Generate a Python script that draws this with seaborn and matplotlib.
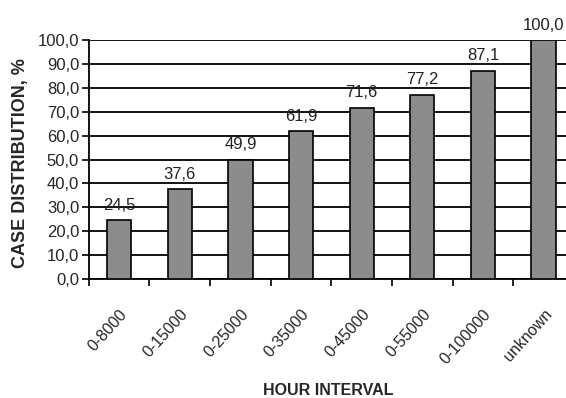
import matplotlib
matplotlib.use("Agg")
import matplotlib.pyplot as plt
import matplotlib.transforms as mtransforms
import seaborn as sns
import pandas as pd
from matplotlib.ticker import FuncFormatter, MultipleLocator

categories = ["0-8000", "0-15000", "0-25000", "0-35000", "0-45000", "0-55000", "0-100000", "unknown"]
distribution = [24.5, 37.6, 49.9, 61.9, 71.6, 77.2, 87.1, 100.0]

df = pd.DataFrame({"interval": categories, "share": distribution})

sns.set_theme(style="white")
narrow = ["Liberation Sans Narrow", "Liberation Sans", "DejaVu Sans"]
plt.rcParams["font.family"] = narrow

fig = plt.figure(figsize=(5.66, 3.98), dpi=100)
ax = fig.add_axes([0.157, 0.299, 0.857, 0.600])

sns.barplot(data=df, x="interval", y="share", ax=ax, color="#8c8c8c",
            edgecolor="black", linewidth=1.2, width=0.4, saturation=1, zorder=3)

ax.set_ylim(0, 100)
ax.set_xlim(-0.5, len(categories) - 0.5)
ax.yaxis.set_major_locator(MultipleLocator(10))
ax.yaxis.set_major_formatter(FuncFormatter(lambda v, p: f"{v:.1f}".replace(".", ",")))
ax.grid(axis="y", color="black", linewidth=1.3, zorder=0)
ax.set_axisbelow(True)

for s in ["top", "right"]:
    ax.spines[s].set_visible(False)
for s in ["left", "bottom"]:
    ax.spines[s].set_color("black")
    ax.spines[s].set_linewidth(1.3)

# x ticks sit on category boundaries; labels hang under category centres
ax.set_xticks([i - 0.5 for i in range(len(categories))], minor=False)
ax.set_xticklabels([])
ax.set_xticks(range(len(categories)), minor=True)
ax.set_xticklabels(categories, minor=True, rotation=48, ha="right",
                   rotation_mode="anchor", fontsize=11.5)
shift = mtransforms.ScaledTranslation(-7 / 100, 0, fig.dpi_scale_trans)
for lbl in ax.get_xticklabels(minor=True):
    lbl.set_transform(lbl.get_transform() + shift)
ax.tick_params(axis="x", which="major", length=5, width=1.2, color="black", direction="out", bottom=True)
ax.tick_params(axis="x", which="minor", length=0, pad=20)
ax.tick_params(axis="y", length=5, width=1.2, color="black", direction="out", left=True, labelsize=12, pad=2)

for i, v in enumerate(distribution):
    ax.text(i, v + 3.2, f"{v:.1f}".replace(".", ","), ha="center", va="bottom",
            fontsize=12, color="#222222")

ax.set_xlabel("")
ax.set_ylabel("")
fig.text(0.037, 0.59, "CASE DISTRIBUTION, %", rotation=90, ha="center", va="center",
         fontsize=13, fontweight="bold", family=["Liberation Sans", "DejaVu Sans"])
fig.text(0.58, 0.02, "HOUR INTERVAL", ha="center", va="center",
         fontsize=11.5, fontweight="bold", family=narrow)

fig.savefig("out.png", dpi=100, facecolor="white")
